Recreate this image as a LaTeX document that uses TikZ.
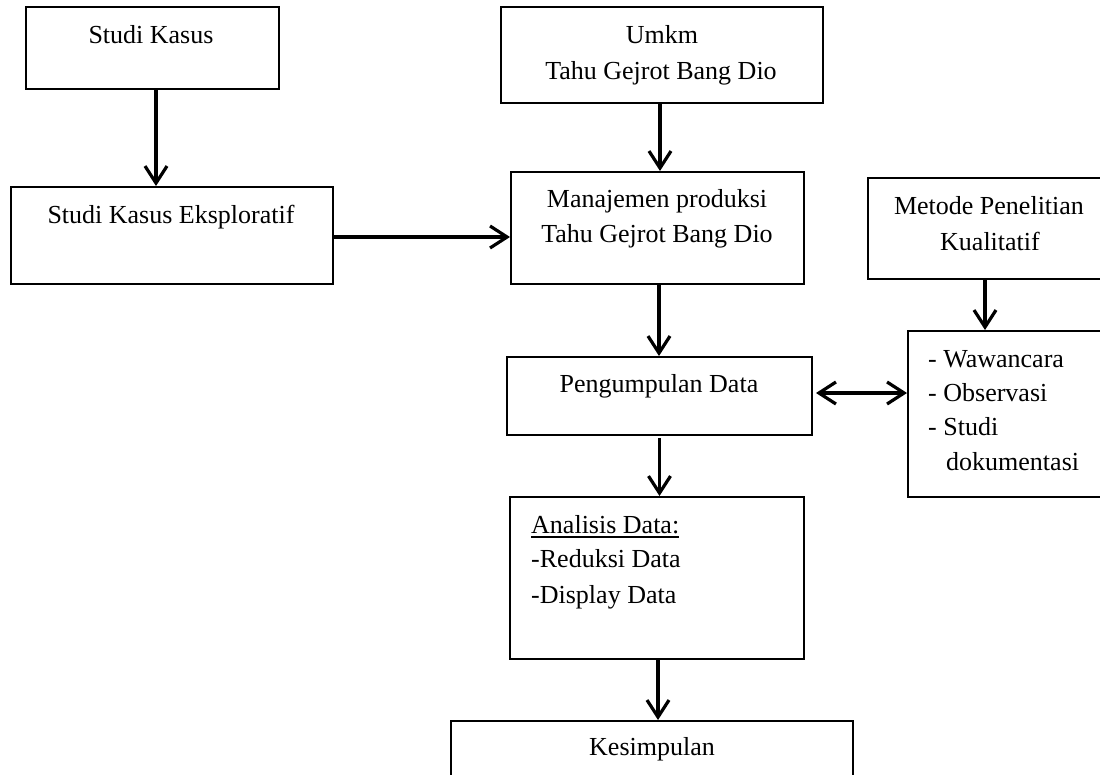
\documentclass[tikz,border=0pt]{standalone}
\usepackage{fontspec}
\setmainfont{Liberation Serif}
\usetikzlibrary{arrows.meta}
\tikzset{
  box/.style={draw=black, line width=2pt, rectangle, inner sep=0pt},
  lbl/.style={inner sep=0pt, anchor=base, font=\fontsize{26pt}{34pt}\selectfont},
  lbll/.style={lbl, anchor=base west},
  arr/.style={line width=3.2pt, -{Straight Barb[length=17pt,width=22pt]}},
  darr/.style={line width=3.2pt, {Straight Barb[length=17pt,width=22pt]}-{Straight Barb[length=17pt,width=22pt]}}
}
\begin{document}
\begin{tikzpicture}[x=1pt,y=-1pt]
\useasboundingbox (0,0) rectangle (1100,774);
\clip (0,0) rectangle (1100,774);
\fill[white] (0,0) rectangle (1100,774);
% boxes
\node[box, minimum width=253pt, minimum height=82pt] (a) at (152.5,48) {};
\node[box, minimum width=322pt, minimum height=97pt] (b) at (172,235.5) {};
\node[box, minimum width=322pt, minimum height=96pt] (c) at (662,55) {};
\node[box, minimum width=293pt, minimum height=112pt] (d) at (657.5,228) {};
\node[box, minimum width=242pt, minimum height=101pt] (e) at (989,228.5) {};
\node[box, minimum width=305pt, minimum height=78pt] (f) at (659.5,396) {};
\node[box, minimum width=207pt, minimum height=166pt] (g) at (1011.5,414) {};
\node[box, minimum width=294pt, minimum height=162pt] (h) at (657,578) {};
\node[box, minimum width=402pt, minimum height=79pt] (i) at (652,760.5) {};
% texts
\node[lbl] (ta) at (151,43) {Studi Kasus};
\node[lbl] (tb) at (171,223) {Studi Kasus Eksploratif};
\node[lbl] (tc1) at (662,43) {Umkm};
\node[lbl] (tc2) at (661,79) {Tahu Gejrot Bang Dio};
\node[lbl] (td1) at (657,207) {Manajemen produksi};
\node[lbl] (td2) at (657,242) {Tahu Gejrot Bang Dio};
\node[lbl] (te1) at (989,214) {Metode Penelitian};
\node[lbl] (te2) at (990,250) {Kualitatif};
\node[lbl] (tf) at (659,392) {Pengumpulan Data};
\node[lbll] (tg1) at (928,367) {- Wawancara};
\node[lbll] (tg2) at (928,401) {- Observasi};
\node[lbll] (tg3) at (928,435) {- Studi};
\node[lbll] (tg4) at (946,470) {dokumentasi};
\node[lbll] (th1) at (531,533) {Analisis Data:};
\node[lbll] (th2) at (531,567) {-Reduksi Data};
\node[lbll] (th3) at (531,603) {-Display Data};
\node[lbl] (ti) at (652,755) {Kesimpulan};
\draw[line width=1.6pt] ([yshift=-4pt]th1.base west) -- ([yshift=-4pt]th1.base east);
% connectors
\draw[arr] ([xshift=3.5pt]a.south) -- ([xshift=3.5pt]a.south |- b.north);
\draw[arr] ([yshift=-1.5pt]b.east) -- ([yshift=-1.5pt]b.east -| d.west);
\draw[arr] ([xshift=-2pt]c.south) -- ([xshift=-2pt]c.south |- d.north);
\draw[arr] ([xshift=1.5pt]d.south) -- ([xshift=1.5pt]d.south |- f.north);
\draw[arr] ([xshift=-4pt]e.south) -- ([xshift=-4pt]e.south |- g.north);
\draw[darr] ([xshift=3pt,yshift=3pt]f.east) -- ([yshift=3pt]f.east -| g.west);
\draw[arr] ([yshift=-2pt]f.south) -- (f.south |- h.north);
\draw[arr] ([xshift=1pt]h.south) -- ([xshift=1pt]h.south |- i.north);
\end{tikzpicture}
\end{document}
